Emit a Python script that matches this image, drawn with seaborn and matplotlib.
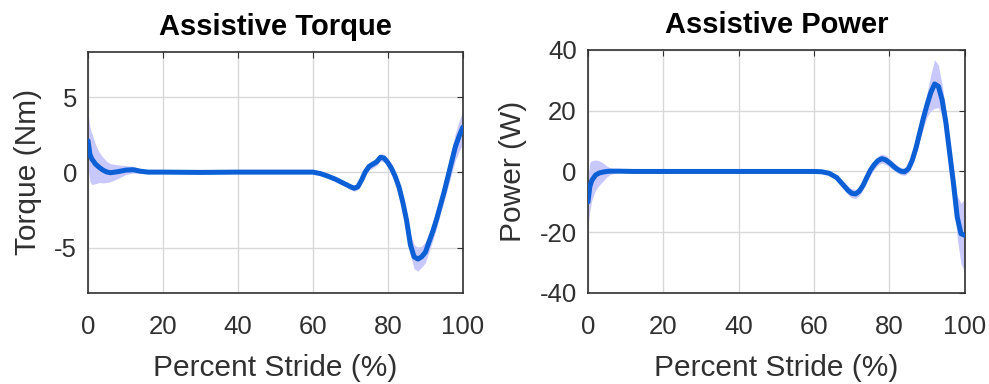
import numpy as np
import pandas as pd
import matplotlib
matplotlib.use("Agg")
import matplotlib.pyplot as plt
import seaborn as sns

# Percent of stride at which the averaged signals are sampled
stride = [0, 0.5, 1, 2, 3, 4, 5, 6, 8, 10, 12, 14, 16, 20, 30, 40, 50, 60,
          62, 64, 66, 68, 69, 70, 71, 72, 73, 74, 75, 76, 77, 78, 79, 80,
          81, 82, 83, 84, 85, 86, 87, 88, 89, 90, 91, 92, 93, 94, 95, 96,
          97, 98, 99, 100]

# Mean assistive torque (Nm) and its spread
torque_mean = [2.1, 1.2, 0.9, 0.55, 0.33, 0.15, 0.03, -0.02, 0.05, 0.15, 0.18,
               0.08, 0.02, 0.02, 0.0, 0.02, 0.02, 0.02,
               -0.08, -0.25, -0.45, -0.7, -0.82, -0.95, -1.05, -0.95, -0.5,
               0.05, 0.4, 0.55, 0.7, 1.0, 0.95, 0.65,
               0.25, -0.3, -1.0, -2.0, -3.2, -4.8, -5.6, -5.75, -5.6, -5.3,
               -4.6, -3.9, -3.1, -2.2, -1.3, -0.3,
               0.7, 1.7, 2.4, 3.0]
torque_sd = [1.8, 1.8, 1.7, 1.3, 1.0, 0.85, 0.7, 0.6, 0.45, 0.3, 0.22,
             0.15, 0.1, 0.08, 0.05, 0.05, 0.05, 0.05,
             0.1, 0.1, 0.1, 0.12, 0.15, 0.18, 0.2, 0.2, 0.2,
             0.25, 0.25, 0.25, 0.25, 0.25, 0.25, 0.25,
             0.3, 0.3, 0.3, 0.35, 0.5, 0.7, 0.8, 0.8, 0.7, 0.7,
             0.65, 0.6, 0.6, 0.55, 0.6, 0.7,
             0.8, 0.9, 1.0, 1.1]

# Mean assistive power (W) and its spread
power_mean = [-10.0, -5.0, -3.0, -1.2, -0.5, -0.2, 0.0, 0.1, 0.1, 0.05, 0.0,
              0.0, 0.0, 0.0, 0.0, 0.0, 0.0, 0.0,
              -0.1, -0.6, -2.0, -4.8, -6.2, -7.2, -7.4, -6.5, -4.6,
              -2.0, 0.5, 2.3, 3.6, 4.2, 3.8, 2.9,
              1.8, 0.8, 0.1, -0.1, 0.8, 3.5, 7.5, 12.5, 17.5, 22.0,
              26.0, 28.8, 28.0, 23.5, 16.0, 6.0,
              -4.0, -15.0, -20.5, -21.0]
power_sd = [8.0, 8.0, 6.5, 5.0, 4.0, 3.0, 1.8, 1.0, 0.5, 0.3, 0.25,
            0.2, 0.2, 0.2, 0.2, 0.2, 0.2, 0.2,
            0.3, 0.5, 0.8, 1.2, 1.4, 1.5, 1.5, 1.5, 1.5,
            1.5, 1.5, 1.5, 1.5, 1.5, 1.5, 1.4,
            1.3, 1.2, 1.2, 1.2, 1.3, 1.5, 2.0, 2.5, 3.2, 4.0,
            6.0, 8.0, 7.0, 5.0, 4.0, 4.0,
            5.0, 7.0, 10.0, 12.0]

titles = ["Assistive Torque", "Assistive Power"]
ylabels = ["Torque (Nm)", "Power (W)"]
xlabel = "Percent Stride (%)"
x_ticks = [0, 20, 40, 60, 80, 100]
torque_ticks = [-5, 0, 5]
power_ticks = [-40, -20, 0, 20, 40]

sns.set_style("white")
plt.rcParams["font.family"] = ["Liberation Sans", "DejaVu Sans"]
plt.rcParams["axes.unicode_minus"] = False

LINE = "#0c5fd4"
BAND = "#c8c8fd"
INK = "#303030"

df = pd.DataFrame({"stride": stride,
                   "torque": torque_mean, "torque_sd": torque_sd,
                   "power": power_mean, "power_sd": power_sd})

fig = plt.figure(figsize=(9.89, 3.84), dpi=100)
ax1 = fig.add_axes([0.089, 0.237, 0.379, 0.628])
ax2 = fig.add_axes([0.5945, 0.237, 0.381, 0.633])

panels = [(ax1, "torque", "torque_sd", (-8, 8), torque_ticks),
          (ax2, "power", "power_sd", (-40, 40), power_ticks)]

for i, (ax, col, sdcol, ylim, yticks) in enumerate(panels):
    ax.fill_between(df["stride"], df[col] - df[sdcol], df[col] + df[sdcol],
                    color=BAND, linewidth=0, zorder=2)
    sns.lineplot(data=df, x="stride", y=col, ax=ax, color=LINE,
                 linewidth=3.6, zorder=3)
    ax.set_xlim(0, 100)
    ax.set_ylim(*ylim)
    ax.set_xticks(x_ticks)
    ax.set_yticks(yticks)
    ax.grid(True, color="#d8d8d8", linewidth=1.0, zorder=0)
    ax.set_axisbelow(True)
    for s in ax.spines.values():
        s.set_color(INK)
        s.set_linewidth(1.2)
        s.set_visible(True)
    ax.tick_params(direction="in", length=4, width=0.8, colors=INK,
                   top=True, right=True, labelsize=18.5)
    ax.tick_params(axis="x", pad=16)
    ax.tick_params(axis="y", pad=8)
    ax.set_title(titles[i], fontsize=21, fontweight="bold", color="black",
                 pad=12)
    ax.set_xlabel(xlabel, fontsize=21.5, color=INK, labelpad=11)
    ax.set_ylabel(ylabels[i], fontsize=21.5, color=INK, labelpad=9)

fig.savefig("out.png", dpi=100)
